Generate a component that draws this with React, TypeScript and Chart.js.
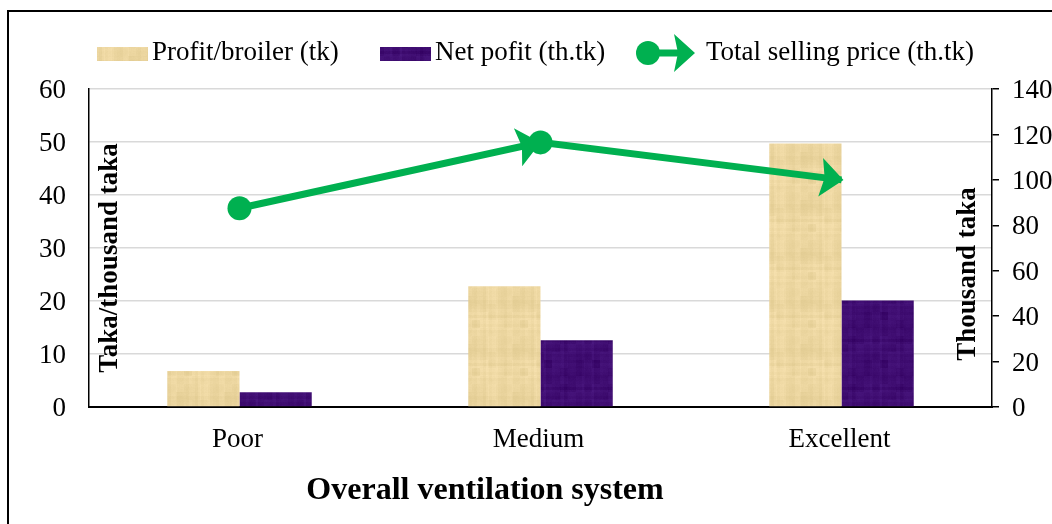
import React, { useEffect, useRef } from "react";
import { Chart, registerables } from "chart.js";

Chart.register(...registerables);

const categories = ["Poor", "Medium", "Excellent"];
const profitPerBroiler = [6.8, 22.8, 49.7];
const netProfit = [2.8, 12.6, 20.1];
const totalSellingPrice = [87.5, 116.5, 100];
const leftTicks = [0, 10, 20, 30, 40, 50, 60];
const rightTicks = [0, 20, 40, 60, 80, 100, 120, 140];

const seriesNames = ["Profit/broiler (tk)", "Net pofit (th.tk)", "Total selling price (th.tk)"];
const leftTitle = "Taka/thousand taka";
const rightTitle = "Thousand taka";
const xTitle = "Overall ventilation system";

const FONT = 'Liberation Serif, "Times New Roman", serif';
const GREEN = "#00b050";

function hash(n: number): number {
  const s = Math.sin(n * 12.9898) * 43758.5453;
  return s - Math.floor(s);
}

function makeTexture(base: [number, number, number], amp: number, seed: number): HTMLCanvasElement {
  const size = 48;
  const c = document.createElement("canvas");
  c.width = size;
  c.height = size;
  const g = c.getContext("2d")!;
  const img = g.createImageData(size, size);
  for (let y = 0; y < size; y++) {
    for (let x = 0; x < size; x++) {
      const rowF = hash(Math.floor(y / 3) + seed) - 0.5;
      const colF = hash(Math.floor(x / 3) * 7.1 + seed * 3) - 0.5;
      const blob = hash(Math.floor(x / 8) * 13 + Math.floor(y / 8) * 29 + seed) - 0.5;
      const fine = hash(x * 31 + y * 17 + seed) - 0.5;
      const v = (rowF * 0.3 + colF * 0.3 + blob * 0.3 + fine * 0.1) * amp;
      const i = (y * size + x) * 4;
      img.data[i] = Math.max(0, Math.min(255, base[0] + v));
      img.data[i + 1] = Math.max(0, Math.min(255, base[1] + v));
      img.data[i + 2] = Math.max(0, Math.min(255, base[2] + v * 1.3));
      img.data[i + 3] = 255;
    }
  }
  g.putImageData(img, 0, 0);
  return c;
}

function drawArrow(ctx: CanvasRenderingContext2D, from: { x: number; y: number }, to: { x: number; y: number }, extend: number) {
  const ang = Math.atan2(to.y - from.y, to.x - from.x);
  const dx = Math.cos(ang);
  const dy = Math.sin(ang);
  const px = -dy;
  const py = dx;
  const L = 23;
  const W = 19.5;
  const tx = to.x + dx * extend;
  const ty = to.y + dy * extend;
  ctx.beginPath();
  ctx.moveTo(tx, ty);
  ctx.lineTo(tx - dx * L + px * W, ty - dy * L + py * W);
  ctx.lineTo(tx - dx * (L - 4), ty - dy * (L - 4));
  ctx.lineTo(tx - dx * L - px * W, ty - dy * L - py * W);
  ctx.closePath();
  ctx.fill();
}

function text(
  c: CanvasRenderingContext2D,
  s: string,
  x: number,
  y: number,
  align: CanvasTextAlign,
  font: string,
  rot = 0
) {
  c.save();
  c.translate(x, y);
  if (rot) c.rotate(rot);
  c.font = font;
  c.textAlign = align;
  c.textBaseline = "middle";
  c.fillStyle = "#000";
  c.fillText(s, 0, 0);
  c.restore();
}

export default function App() {
  const ref = useRef<HTMLCanvasElement | null>(null);

  useEffect(() => {
    const canvas = ref.current!;
    const ctx = canvas.getContext("2d")!;
    const beigeTex = makeTexture([236, 214, 160], 26, 3);
    const purpleTex = makeTexture([62, 12, 112], 28, 11);
    const beige = ctx.createPattern(beigeTex, "repeat")!;
    const purple = ctx.createPattern(purpleTex, "repeat")!;

    const overlay = {
      id: "overlay",
      beforeDraw(chart: any) {
        const c = chart.ctx;
        c.save();
        c.strokeStyle = "#000";
        c.lineWidth = 2;
        c.strokeRect(8, 11, 1200, 700);
        c.restore();
      },
      afterDatasetsDraw(chart: any) {
        const c = chart.ctx;
        const meta = chart.getDatasetMeta(0);
        const pts = meta.data.map((e: any) => ({ x: e.x, y: e.y }));
        c.save();
        c.fillStyle = GREEN;
        drawArrow(c, pts[0], pts[1], 0);
        drawArrow(c, pts[1], pts[2], 2);
        for (const i of [0, 1]) {
          c.beginPath();
          c.arc(pts[i].x, pts[i].y, 12, 0, Math.PI * 2);
          c.fill();
        }
        c.restore();
      },
      afterDraw(chart: any) {
        const c = chart.ctx;
        const area = chart.chartArea;
        const tickFont = `27px ${FONT}`;
        // tick labels
        const ys = chart.scales.y;
        for (const v of leftTicks) text(c, String(v), area.left - 23, ys.getPixelForValue(v) + 2, "right", tickFont);
        const ys2 = chart.scales.y2;
        for (const v of rightTicks) text(c, String(v), area.right + 20, ys2.getPixelForValue(v) + 2, "left", tickFont);
        const xs = chart.scales.x;
        categories.forEach((cat, i) => text(c, cat, xs.getPixelForValue(i) - 2, 440, "center", tickFont));

        // axis titles
        const titleFont = `bold 27px ${FONT}`;
        text(c, leftTitle, area.left + 21, 258, "center", titleFont, -Math.PI / 2);
        text(c, rightTitle, area.right - 24, 274, "center", titleFont, -Math.PI / 2);
        text(c, xTitle, 485, 491, "center", `bold 32px ${FONT}`);

        // legend
        const ly = 53;
        c.save();
        c.fillStyle = beige;
        c.fillRect(97, 47, 51, 14);
        c.fillStyle = purple;
        c.fillRect(380, 47, 51, 14);
        c.restore();
        text(c, seriesNames[0], 152, ly, "left", tickFont);
        text(c, seriesNames[1], 435, ly, "left", tickFont);
        text(c, seriesNames[2], 706, ly, "left", tickFont);
        c.save();
        c.strokeStyle = GREEN;
        c.lineWidth = 7;
        c.beginPath();
        c.moveTo(648, ly);
        c.lineTo(680, ly);
        c.stroke();
        c.fillStyle = GREEN;
        c.beginPath();
        c.arc(648, ly, 12, 0, Math.PI * 2);
        c.fill();
        c.beginPath();
        c.moveTo(695, ly);
        c.lineTo(674, ly - 19);
        c.lineTo(678, ly);
        c.lineTo(674, ly + 19);
        c.closePath();
        c.fill();
        c.restore();
      },
    };

    const chart = new Chart(ctx, {
      type: "bar",
      data: {
        labels: categories,
        datasets: [
          {
            type: "line",
            label: seriesNames[2],
            data: totalSellingPrice,
            yAxisID: "y2",
            borderColor: GREEN,
            backgroundColor: GREEN,
            borderWidth: 7,
            pointRadius: 0,
            pointHoverRadius: 0,
            tension: 0,
            order: 0,
          } as any,
          {
            label: seriesNames[0],
            data: profitPerBroiler,
            yAxisID: "y",
            backgroundColor: beige as any,
            borderWidth: 0,
            barPercentage: 1,
            categoryPercentage: 0.48,
            order: 1,
          },
          {
            label: seriesNames[1],
            data: netProfit,
            yAxisID: "y",
            backgroundColor: purple as any,
            borderWidth: 0,
            barPercentage: 1,
            categoryPercentage: 0.48,
            order: 1,
          },
        ],
      },
      options: {
        responsive: false,
        animation: false,
        layout: { padding: { top: 89, left: 0, right: 0, bottom: 0 } },
        plugins: {
          legend: { display: false },
          tooltip: { enabled: false },
          title: { display: false },
        },
        scales: {
          x: {
            grid: { display: false, drawTicks: false },
            border: { display: true, color: "#000", width: 2 },
            ticks: { display: false },
            afterFit: (s: any) => {
              s.height = 117;
            },
          },
          y: {
            position: "left",
            min: 0,
            max: 60,
            afterBuildTicks: (s: any) => {
              s.ticks = leftTicks.map((v) => ({ value: v }));
            },
            grid: { color: "#d9d9d9", lineWidth: 1.5, drawTicks: false },
            border: { display: true, color: "#000", width: 1.5 },
            ticks: { display: false },
            afterFit: (s: any) => {
              s.width = 89;
            },
          },
          y2: {
            position: "right",
            min: 0,
            max: 140,
            afterBuildTicks: (s: any) => {
              s.ticks = rightTicks.map((v) => ({ value: v }));
            },
            grid: { drawOnChartArea: false, drawTicks: true, tickLength: 7, color: "#000", lineWidth: 1.5 },
            border: { display: true, color: "#000", width: 1.5 },
            ticks: { display: false },
            afterFit: (s: any) => {
              s.width = 60;
            },
          },
        },
      },
      plugins: [overlay],
    });

    return () => chart.destroy();
  }, []);

  return (
    <div style={{ position: "absolute", left: 0, top: 0, width: 1052, height: 524, background: "#fff" }}>
      <canvas ref={ref} width={1052} height={524} style={{ display: "block" }} />
    </div>
  );
}
